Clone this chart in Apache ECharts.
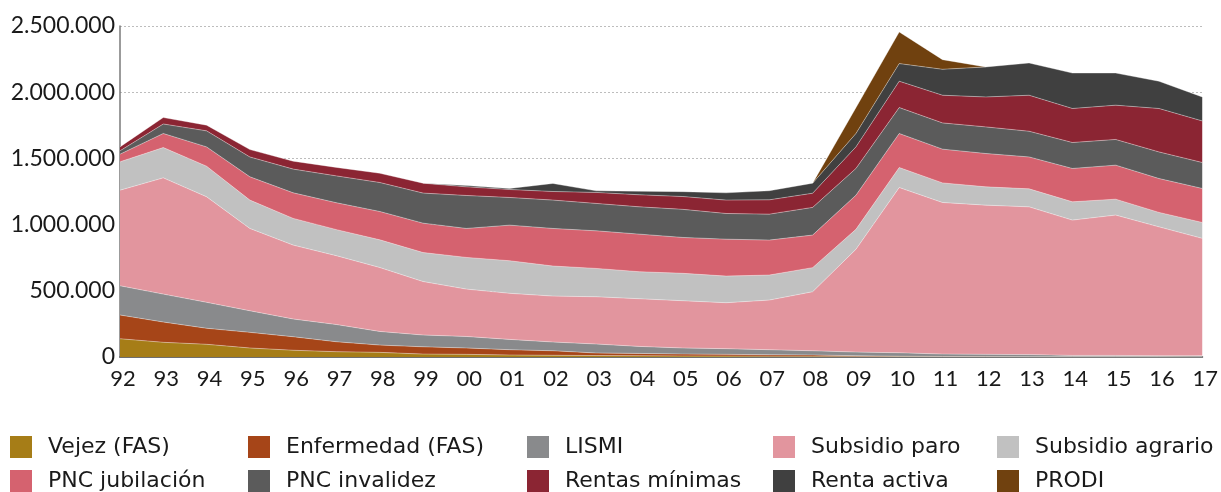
<!DOCTYPE html>
<html>
<head>
<meta charset="utf-8">
<script src="https://cdn.jsdelivr.net/npm/echarts@6/dist/echarts.min.js"></script>
<style>
html,body{margin:0;padding:0;background:#fff;}
#chart{width:1221px;height:492px;}
</style>
</head>
<body>
<div id="chart"></div>
<script>
const years = ['92','93','94','95','96','97','98','99','00','01','02','03','04','05','06','07','08','09','10','11','12','13','14','15','16','17'];
const yTicks = [0, 500000, 1000000, 1500000, 2000000, 2500000];

const vejez        = [138000,111000,96000,68000,51000,40000,35000,22000,20000,15000,13000,11000,10000,8000,7000,6000,5000,4000,3000,2000,2000,1000,1000,1000,1000,1000];
const enfermedad   = [179000,153000,121000,118000,102000,75000,55000,55000,48000,40000,34000,19000,17000,14000,13000,11000,10000,6000,3000,2000,1000,1000,1000,1000,0,0];
const lismi        = [221000,211000,196000,163000,134000,130000,103000,89000,87000,78000,66000,68000,53000,46000,43000,38000,32000,27000,26000,18000,17000,16000,10000,10000,9000,9000];
const subsParo     = [722000,878000,797000,622000,558000,520000,483000,404000,358000,348000,347000,357000,360000,357000,347000,375000,446000,776000,1248000,1145000,1127000,1116000,1022000,1060000,973000,886000];
const subsAgrario  = [214000,229000,231000,214000,202000,197000,209000,219000,239000,246000,227000,214000,204000,207000,201000,189000,182000,151000,151000,148000,138000,136000,138000,120000,109000,120000];
const pncJub       = [58000,106000,146000,176000,193000,203000,214000,222000,219000,269000,284000,284000,284000,271000,279000,264000,246000,258000,257000,255000,252000,241000,252000,257000,256000,257000];
const pncInv       = [25000,72000,121000,150000,179000,203000,219000,227000,249000,209000,214000,207000,206000,212000,194000,196000,209000,202000,196000,198000,201000,194000,196000,194000,201000,196000];
const rentasMin    = [30000,49000,43000,56000,60000,64000,70000,75000,65000,60000,65000,83000,91000,97000,101000,108000,107000,163000,199000,209000,226000,272000,257000,259000,328000,314000];
const rentaActiva  = [null,null,null,null,null,null,null,0,10000,8000,61000,12000,27000,37000,55000,69000,76000,101000,133000,196000,227000,244000,268000,243000,206000,181000];
const prodi        = [null,null,null,null,null,null,null,null,null,null,null,null,null,null,null,null,0,195000,239000,73000,0,null,null,null,null,null];

const names = ['Vejez (FAS)','Enfermedad (FAS)','LISMI','Subsidio paro','Subsidio agrario','PNC jubilación','PNC invalidez','Rentas mínimas','Renta activa','PRODI'];
const values = [vejez,enfermedad,lismi,subsParo,subsAgrario,pncJub,pncInv,rentasMin,rentaActiva,prodi];
const colors = ['#a67d17','#a64518','#898a8c','#e2959e','#c1c1c1','#d5626f','#5b5b5b','#8b2533','#404040','#70410f'];

const FONT = 'Lato';
const LEGEND_FONT = 'DejaVu Sans';
const fmt = v => String(v).replace(/\B(?=(\d{3})+(?!\d))/g, '.');

const series = names.map((n, i) => ({
  name: n,
  type: 'line',
  stack: 'total',
  data: values[i],
  showSymbol: false,
  symbol: 'none',
  color: colors[i],
  lineStyle: { width: 0.8, color: 'rgba(255,255,255,0.45)' },
  areaStyle: { color: colors[i], opacity: 1 },
  emphasis: { disabled: true }
}));

const legendCols = [
  { left: 10,  data: [names[0], names[5]] },
  { left: 248, data: [names[1], names[6]] },
  { left: 527, data: [names[2], names[7]] },
  { left: 773, data: [names[3], names[8]] },
  { left: 997, data: [names[4], names[9]] }
];

const chart = echarts.init(document.getElementById('chart'), null, { renderer: 'canvas' });
chart.setOption({
  animation: false,
  backgroundColor: '#ffffff',
  grid: { left: 120, right: 17, top: 26, bottom: 135, containLabel: false },
  legend: legendCols.map(c => ({
    left: c.left,
    top: 436,
    orient: 'vertical',
    icon: 'rect',
    itemWidth: 22,
    itemHeight: 22,
    itemGap: 12,
    padding: 0,
    selectedMode: false,
    data: c.data,
    textStyle: { fontFamily: LEGEND_FONT, fontSize: 22, color: '#1a1a1a', lineHeight: 22, padding: [0, 0, 0, 11] }
  })),
  xAxis: {
    type: 'category',
    data: years,
    boundaryGap: false,
    axisLine: { show: true, lineStyle: { color: '#6e6e6e', width: 2 } },
    axisTick: { show: false },
    axisLabel: { fontFamily: FONT, fontSize: 22, color: '#1a1a1a', margin: 11, padding: [0, 0, 0, 6] },
    splitLine: { show: false }
  },
  yAxis: {
    type: 'value',
    min: yTicks[0],
    max: yTicks[yTicks.length - 1],
    interval: yTicks[1] - yTicks[0],
    axisLine: { show: true, lineStyle: { color: '#7a7a7a', width: 1.5 } },
    axisTick: { show: false },
    axisLabel: { fontFamily: FONT, fontSize: 23, color: '#1a1a1a', margin: 5, formatter: v => fmt(v) },
    splitLine: { show: true, lineStyle: { color: '#bdbdbd', type: [2, 2], width: 1 } }
  },
  series: series
});
</script>
</body>
</html>
